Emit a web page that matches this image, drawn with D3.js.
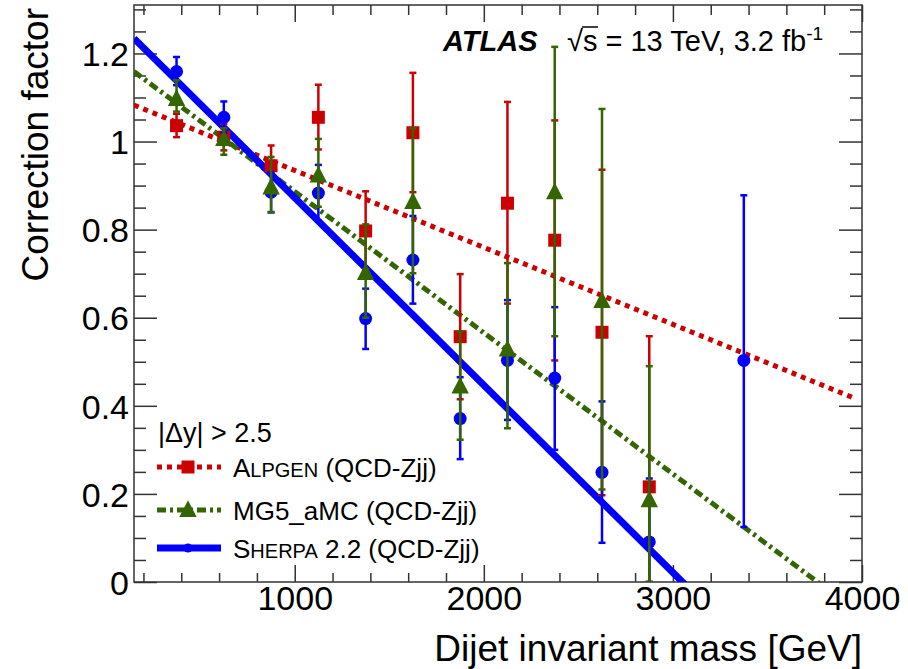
<!DOCTYPE html>
<html>
<head>
<meta charset="utf-8">
<script src="https://cdn.jsdelivr.net/npm/d3@7"></script>
<style>
  body { margin: 0; background: #fff; }
  text { font-family: "Liberation Sans", Arial, Helvetica, sans-serif; fill: #000; }
</style>
</head>
<body>
<div id="chart"></div>
<script>
/* ---------- DATA ---------- */
// bin centres of the dijet mass [GeV]
const massBins = [375, 625, 875, 1125, 1375, 1625, 1875, 2125, 2375, 2625, 2875, 3375];

// Alpgen (QCD-Zjj)
const alpgenVal = [1.036, 1.010, 0.945, 1.055, 0.797, 1.020, 0.557, 0.860, 0.776, 0.567, 0.216, null];
const alpgenHi  = [1.063, 1.040, 0.991, 1.129, 0.887, 1.156, 0.699, 1.090, 1.048, 0.936, 0.558, null];
const alpgenLo  = [1.010, 0.980, 0.895, 0.982, 0.710, 0.885, 0.415, 0.632, 0.503, 0.197, 0.000, null];

// MG5_aMC (QCD-Zjj)
const mg5Val = [1.097, 1.006, 0.896, 0.923, 0.702, 0.863, 0.444, 0.528, 0.885, 0.638, 0.186, null];
const mg5Hi  = [1.139, 1.030, 0.965, 1.006, 0.812, 1.030, 0.569, 0.724, 1.215, 1.074, 0.490, null];
const mg5Lo  = [1.068, 0.970, 0.840, 0.852, 0.600, 0.701, 0.323, 0.349, 0.558, 0.210, 0.000, null];

// Sherpa 2.2 (QCD-Zjj)
const sherpaVal = [1.159, 1.055, 0.885, 0.883, 0.598, 0.731, 0.371, 0.503, 0.463, 0.249, 0.091, 0.503];
const sherpaHi  = [1.192, 1.091, 0.930, 0.947, 0.666, 0.831, 0.465, 0.640, 0.624, 0.410, 0.235, 0.878];
const sherpaLo  = [1.128, 1.020, 0.839, 0.820, 0.529, 0.632, 0.279, 0.368, 0.300, 0.089, 0.000, 0.125];

// linear fits: intercept + slope * mass
const fitIntercept = [1.109, 1.207, 1.298];
const fitSlope     = [-1.747e-4, -3.206e-4, -4.255e-4];
const fitRange     = [[150, 3950], [150, 4000], [150, 4000]];

const xMajorTicks = [1000, 2000, 3000, 4000];
const yMajorTicks = [0, 0.2, 0.4, 0.6, 0.8, 1, 1.2];

/* ---------- LAYOUT ---------- */
const width = 908, height = 669;
const frame = { left: 134, top: 5, right: 862, bottom: 582 };

const seriesStyle = [
  { name: "Alpgen", color: "#cc0000", dash: "5,5", lw: 5, marker: "square", size: 13 },
  { name: "MG5", color: "#336600", dash: "9,4,3,4", lw: 5, marker: "triangle", size: 15 },
  { name: "Sherpa", color: "#0000ff", dash: null, lw: 7, marker: "circle", size: 13 }
];

const svg = d3.select("#chart").append("svg")
  .attr("width", width).attr("height", height);

const x = d3.scaleLinear().domain([150, 4000]).range([frame.left, frame.right]);
const y = d3.scaleLinear().domain([0, 1.31]).range([frame.bottom, frame.top]);

svg.append("clipPath").attr("id", "clip")
  .append("rect")
  .attr("x", frame.left).attr("y", frame.top)
  .attr("width", frame.right - frame.left).attr("height", frame.bottom - frame.top);

/* ---------- AXES ---------- */
const xMinor = d3.range(200, 4001, 200).filter(v => v % 1000 !== 0);
const yMinor = d3.range(0, 1.31, 0.05).map(v => +v.toFixed(2)).filter(v => Math.round(v * 100) % 20 !== 0);

function styleAxis(g) {
  g.select(".domain").remove();
  g.selectAll("line").attr("stroke", "#333").attr("stroke-width", 1.5);
}

// bottom
svg.append("g").attr("transform", `translate(0,${frame.bottom})`)
  .call(d3.axisBottom(x).tickValues(xMajorTicks).tickSize(-17).tickPadding(28).tickFormat(d3.format("d")))
  .call(styleAxis)
  .selectAll("text").style("font-size", "34px").attr("dy", "0");
svg.append("g").attr("transform", `translate(0,${frame.bottom})`)
  .call(d3.axisBottom(x).tickValues(xMinor).tickSize(-9).tickFormat(""))
  .call(styleAxis);
// top
svg.append("g").attr("transform", `translate(0,${frame.top})`)
  .call(d3.axisTop(x).tickValues(xMajorTicks).tickSize(-17).tickFormat(""))
  .call(styleAxis);
svg.append("g").attr("transform", `translate(0,${frame.top})`)
  .call(d3.axisTop(x).tickValues(xMinor).tickSize(-10).tickFormat(""))
  .call(styleAxis);
// left
svg.append("g").attr("transform", `translate(${frame.left},0)`)
  .call(d3.axisLeft(y).tickValues(yMajorTicks).tickSize(-23).tickPadding(5).tickFormat(d => d3.format("")(d)))
  .call(styleAxis)
  .selectAll("text").style("font-size", "34px").attr("dy", "0.36em");
svg.append("g").attr("transform", `translate(${frame.left},0)`)
  .call(d3.axisLeft(y).tickValues(yMinor).tickSize(-12).tickFormat(""))
  .call(styleAxis);
// right
svg.append("g").attr("transform", `translate(${frame.right},0)`)
  .call(d3.axisRight(y).tickValues(yMajorTicks).tickSize(-23).tickFormat(""))
  .call(styleAxis);
svg.append("g").attr("transform", `translate(${frame.right},0)`)
  .call(d3.axisRight(y).tickValues(yMinor).tickSize(-12).tickFormat(""))
  .call(styleAxis);

// frame
svg.append("rect")
  .attr("x", frame.left).attr("y", frame.top)
  .attr("width", frame.right - frame.left).attr("height", frame.bottom - frame.top)
  .attr("fill", "none").attr("stroke", "#333").attr("stroke-width", 1.5);

// axis titles
svg.append("text")
  .attr("x", frame.right).attr("y", 661)
  .attr("text-anchor", "end").style("font-size", "37px")
  .text("Dijet invariant mass [GeV]");
svg.append("text")
  .attr("transform", `translate(48,8) rotate(-90)`)
  .attr("text-anchor", "end").style("font-size", "37px")
  .text("Correction factor");

/* ---------- FIT LINES ---------- */
const plot = svg.append("g").attr("clip-path", "url(#clip)");
const lineGen = d3.line().x(d => x(d[0])).y(d => y(d[1]));

seriesStyle.forEach((s, i) => {
  const pts = fitRange[i].map(m => [m, fitIntercept[i] + fitSlope[i] * m]);
  plot.append("path")
    .attr("d", lineGen(pts))
    .attr("fill", "none")
    .attr("stroke", s.color)
    .attr("stroke-width", s.lw)
    .attr("stroke-dasharray", s.dash);
});

/* ---------- POINTS ---------- */
function drawMarker(g, type, cx, cy, color, size) {
  if (type === "square") {
    g.append("rect").attr("x", cx - size / 2).attr("y", cy - size / 2)
      .attr("width", size).attr("height", size).attr("fill", color);
  } else if (type === "triangle") {
    const h = size * 1.05;
    g.append("path")
      .attr("d", `M${cx},${cy - h * 0.62} L${cx + size * 0.58},${cy + h * 0.45} L${cx - size * 0.58},${cy + h * 0.45} Z`)
      .attr("fill", color);
  } else {
    g.append("circle").attr("cx", cx).attr("cy", cy).attr("r", size / 2).attr("fill", color);
  }
}

const seriesData = [
  [alpgenVal, alpgenHi, alpgenLo],
  [sherpaVal, sherpaHi, sherpaLo],
  [mg5Val, mg5Hi, mg5Lo]
];
const drawOrder = [0, 2, 1]; // alpgen, sherpa, mg5 on top

seriesData.forEach((sd, k) => {
  const s = seriesStyle[drawOrder[k]];
  const [vals, his, los] = sd;
  const pts = massBins.map((m, i) => ({ m, v: vals[i], hi: his[i], lo: los[i] }))
    .filter(d => d.v !== null);
  const g = plot.append("g");
  g.selectAll("line.bar").data(pts).join("line")
    .attr("class", "bar")
    .attr("x1", d => x(d.m)).attr("x2", d => x(d.m))
    .attr("y1", d => y(d.hi)).attr("y2", d => y(d.lo))
    .attr("stroke", s.color).attr("stroke-width", 2.5);
  ["hi", "lo"].forEach(key => {
    g.selectAll("line.cap-" + key).data(pts).join("line")
      .attr("class", "cap-" + key)
      .attr("x1", d => x(d.m) - 3.5).attr("x2", d => x(d.m) + 3.5)
      .attr("y1", d => y(d[key])).attr("y2", d => y(d[key]))
      .attr("stroke", s.color).attr("stroke-width", 2.5);
  });
  pts.forEach(d => drawMarker(g, s.marker, x(d.m), y(d.v), s.color, s.size));
});

/* ---------- LEGEND ---------- */
svg.append("text")
  .attr("x", 158).attr("y", 442).style("font-size", "27px")
  .text("|\u0394y| > 2.5");

const legendLabels = [
  [["A", 26], ["LPGEN", 20], [" (QCD-Zjj)", 26]],
  [["MG5_aMC (QCD-Zjj)", 26]],
  [["S", 26], ["HERPA", 20], [" 2.2 (QCD-Zjj)", 26]]
];
const legendY = [467, 510, 548];

seriesStyle.forEach((s, i) => {
  const ly = legendY[i];
  svg.append("line")
    .attr("x1", 157).attr("x2", 221).attr("y1", ly).attr("y2", ly)
    .attr("stroke", s.color).attr("stroke-width", s.lw)
    .attr("stroke-dasharray", s.dash);
  drawMarker(svg, s.marker, 188, ly, s.color, s.marker === "circle" ? 9 : s.size);
  const t = svg.append("text").attr("x", 233).attr("y", ly + 10);
  legendLabels[i].forEach(([str, fs]) => {
    t.append("tspan").style("font-size", fs + "px").text(str);
  });
});

/* ---------- ATLAS LABEL ---------- */
svg.append("text")
  .attr("x", 443).attr("y", 51)
  .style("font-size", "29px").style("font-weight", "bold").style("font-style", "italic")
  .text("ATLAS");
const lum = svg.append("text").attr("x", 567).attr("y", 51).style("font-size", "29px");
lum.append("tspan").text("\u221A");
lum.append("tspan").text("s = 13 TeV, 3.2 fb");
lum.append("tspan").attr("dy", -11).style("font-size", "19px").text("-1");
// overline of the square root
const sqrtW = lum.select("tspan").node().getComputedTextLength();
svg.append("line")
  .attr("x1", 567 + sqrtW - 1).attr("x2", 567 + sqrtW + 15)
  .attr("y1", 51 - 24).attr("y2", 51 - 24)
  .attr("stroke", "#000").attr("stroke-width", 1.5);
</script>
</body>
</html>
